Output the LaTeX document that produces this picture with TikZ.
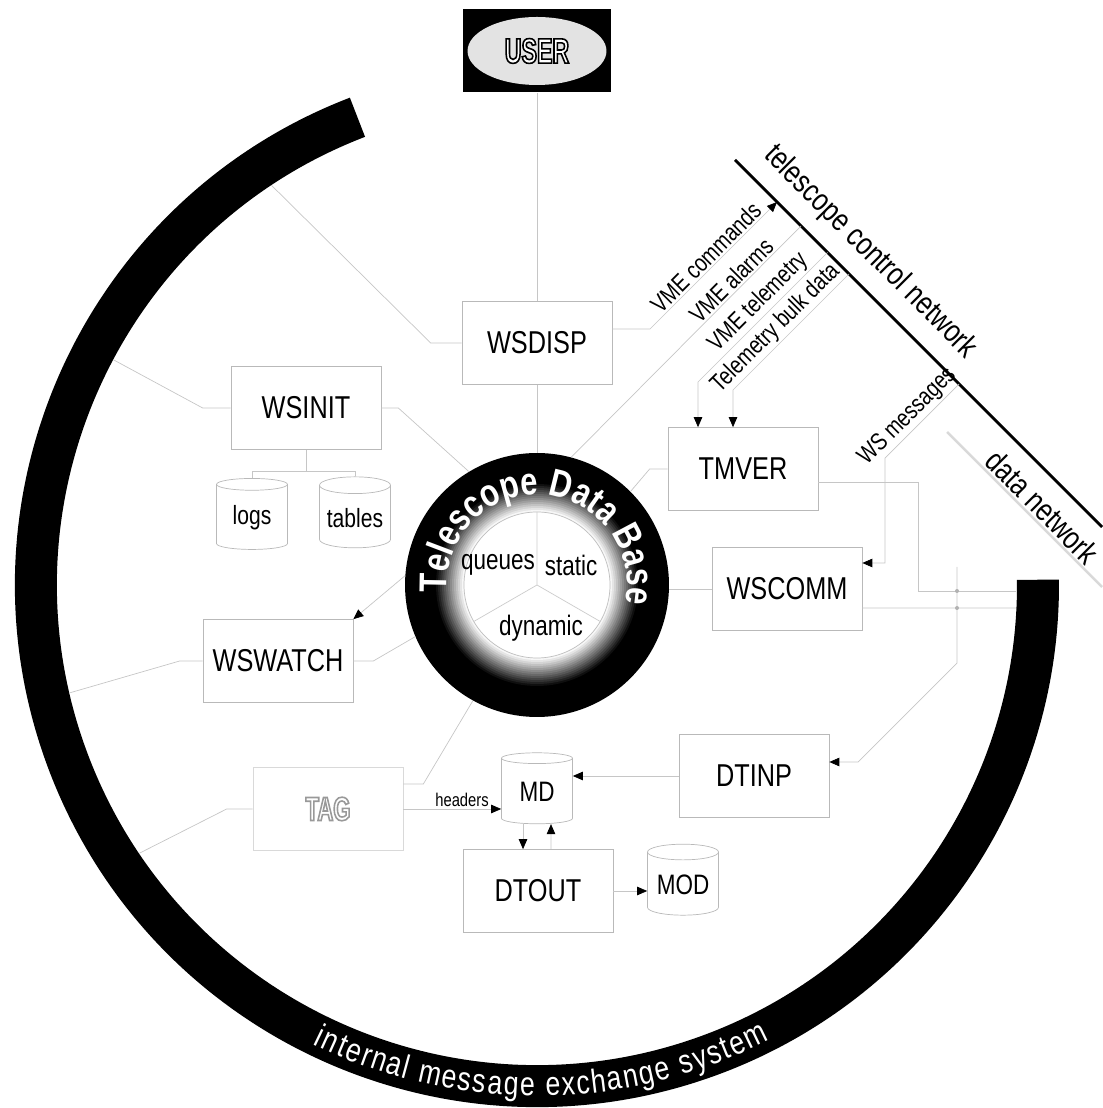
\documentclass[tikz,border=0pt]{standalone}
\usepackage{fontspec}
\setmainfont[FakeStretch=0.8]{Liberation Sans}
\newfontfamily\userfont[FakeStretch=0.66]{Liberation Sans}
\usetikzlibrary{arrows.meta,shapes.geometric,decorations.text}

\newcommand{\boxfont}{\fontsize{18}{21}\selectfont}
\newcommand{\storefont}{\fontsize{16}{19}\selectfont}
\newcommand{\vmefont}{\fontsize{14}{16}\selectfont}
\newcommand{\netfont}{\fontsize{18}{21}\selectfont}
% hollow lettering: white fill, coloured outline
\newcommand{\strokedtext}[2]{\special{pdf:literal direct #1 RG 0.9 w 2 Tr}#2\special{pdf:literal direct 0 Tr}}

\begin{document}
\begin{tikzpicture}[x=0.02cm, y=0.02cm,
  procbox/.style={draw=gray!55, line width=0.4pt, minimum width=3cm, minimum height=1.66cm, font=\boxfont},
  store/.style={cylinder, shape border rotate=90, aspect=0.28, draw=gray!55, line width=0.4pt,
    minimum width=1.42cm, minimum height=1.42cm, inner sep=1pt, font=\storefont},
  link/.style={draw=gray!45, line width=0.4pt},
  feed/.style={link, -{Triangle[length=0.2cm, width=0.17cm, color=black]}},
  backfeed/.style={link, {Triangle[length=0.2cm, width=0.17cm, color=black]}-},
  vmelabel/.style={sloped, above, inner sep=1pt, font=\vmefont}]
  \useasboundingbox (0,0) rectangle (1102,1108);

  % Internal message exchange ring
  \draw[line width=0.84cm] (537,523) ++(111:501) arc[start angle=111, end angle=360.6, radius=501];
  \path[decorate, decoration={text along path, text align=fit to path,
      text={|\color{white}\fontsize{19}{19}\selectfont|internal message exchange system}}]
    (537,523) ++(244:511) arc[start angle=244, end angle=297, radius=511];

  % Telescope data base
  \node[circle, fill=black, minimum size=5.28cm, inner sep=0pt] (db) at (537,523) {};
  \foreach \r in {101,99,...,75} {
    \pgfmathtruncatemacro{\k}{(\r-74)*3.5}
    \fill[black!\k] (db.center) circle (\r);
  }
  \draw[gray!50, fill=white] (db.center) circle (73);
  \draw[gray!40] (db.center) -- ++(90:73) (db.center) -- ++(210:73) (db.center) -- ++(330:73);
  \path[decorate, decoration={text along path, text align=fit to path,
      text={|\color{white}\bfseries\fontsize{22}{22}\selectfont|Telescope Data Base}}]
    (db.center) ++(185:90) arc[start angle=185, end angle=-9, radius=90];
  \node[font=\storefont] (queues) at (498,543) {queues};
  \node[font=\storefont] (static) at (571,543) {static};
  \node[font=\storefont] (dynamic) at (541,480) {dynamic};

  % User
  \node[fill=black, minimum width=2.98cm, minimum height=1.66cm] (userbox) at (537,1057) {};
  \node[ellipse, fill=gray!22, minimum width=2.78cm, minimum height=1.36cm] (userdisc) at (userbox) {};
  \node[font=\userfont\bfseries\fontsize{20}{20}\selectfont, text=white] (user) at (userbox) {\strokedtext{0 0 0}{USER}};

  % Processes
  \node[procbox] (wsdisp) at (537,765) {WSDISP};
  \node[procbox] (wsinit) at (306,700) {WSINIT};
  \node[procbox] (wswatch) at (278,447) {WSWATCH};
  \node[procbox] (tmver) at (743,639) {TMVER};
  \node[procbox] (wscomm) at (787,519) {WSCOMM};
  \node[procbox] (dtinp) at (754,332) {DTINP};
  \node[procbox] (dtout) at (538,217) {DTOUT};
  \node[procbox, draw=gray!30, font=\userfont\bfseries\fontsize{19}{19}\selectfont, text=white] (tag) at (328,299) {\strokedtext{0.6 0.6 0.6}{TAG}};

  % Stores
  \node[store, font=\fontsize{15}{18}\selectfont] (logs) at (252,590) {logs};
  \node[store, font=\fontsize{15}{18}\selectfont] (tables) at (355,590) {tables};
  \node[store] (md) at (537,316) {MD};
  \node[store] (mod) at (683,223) {MOD};

  % Ring taps
  \path (db.center) ++(123.6:480) coordinate (ringdisp)
        (db.center) ++(152:480) coordinate (ringinit)
        (db.center) ++(193:480) coordinate (ringwatch)
        (db.center) ++(214:480) coordinate (ringtag);
  \coordinate (ringtm) at (1016,517);
  \coordinate (ringcomm) at (1016,500);

  % Networks
  \coordinate (tcn1) at (735,948);
  \coordinate (tcn2) at (1102,581);
  \coordinate (vmecmd) at (777,906);
  \coordinate (vmealarm) at (801,882);
  \coordinate (vmetm) at (827.5,855.5);
  \coordinate (vmebulk) at (849,834);
  \coordinate (wsmsg) at (959,724);
  \coordinate (dn1) at (947,676);
  \coordinate (dn2) at (1102,521);
  \draw[line width=1.6pt] (tcn1) -- node[sloped, above=0.25cm, inner sep=1pt, pos=0.31, font=\netfont] {telescope control network} (tcn2);
  \draw[gray!30, line width=1.4pt] (dn1) -- node[sloped, above, inner sep=1pt, pos=0.55, text=black, font=\netfont] {data network} (dn2);

  % VME traffic
  \draw[feed] ([yshift=0.28cm]wsdisp.east) -- (650,779) -- node[vmelabel, pos=0.5] {VME commands} (vmecmd);
  \draw[link] (db.75.5) -- node[vmelabel, pos=0.73] {VME alarms} (vmealarm);
  \draw[backfeed] ([xshift=-0.9cm]tmver.north) -- (698,726) -- node[vmelabel, pos=0.54] {VME telemetry} (vmetm);
  \draw[backfeed] ([xshift=-0.2cm]tmver.north) -- (733,718) -- node[vmelabel, pos=0.45] {Telemetry bulk data} (vmebulk);
  \draw[backfeed] ([yshift=0.52cm]wscomm.east) -- (885,545) -- (885,650) -- node[vmelabel, pos=0.43] {WS messages} (wsmsg);

  % Links to the data base and the ring
  \draw[link] (userbox.south) -- (wsdisp.north);
  \draw[link] (wsdisp.south) -- (db.north);
  \draw[link] (wsdisp.west) -- ++(-31,0) -- (ringdisp);
  \draw[link] (wsinit.west) -- ++(-28,0) -- (ringinit);
  \draw[link] (wsinit.east) -- ++(17,0) -- (db.121);
  \draw[link] (wsinit.south) -- ++(0,-22) coordinate (split);
  \draw[link] (logs.north) |- (split) -| (tables.north);
  \draw[link] (wswatch.west) -- ++(-23,0) -- (ringwatch);
  \draw[link] (wswatch.east) -- ++(20,0) -- (db.203.4);
  \draw[feed] (db.176.5) -- (wswatch.north east);
  \draw[link] (tag.west) -- ++(-26,0) -- (ringtag);
  \draw[link] ([yshift=0.5cm]tag.east) -- ++(20,0) -- (db.241);
  \draw[link] (tmver.west) -- ++(-18,0) -- (db.45.6);
  \draw[link] (wscomm.west) -- (wscomm.west -| db.east);
  \draw[link] ([yshift=-0.26cm]tmver.east) -| (918,517) -- (ringtm);
  \draw[link] ([yshift=-0.38cm]wscomm.east) -- (ringcomm);
  \draw[backfeed] ([yshift=0.28cm]dtinp.east) -- (858,346) -- (957,445) -- (957,541);
  \fill[gray!60] (957,517) circle (2) (957,500) circle (2);

  % Data flow
  \draw[feed] (tag.east) -- node[above, inner sep=1pt, pos=0.6, font=\fontsize{10.5}{12}\selectfont] {headers} (tag.east -| md.west);
  \draw[feed] (dtinp.west) -- (dtinp.west -| md.east);
  \draw[feed] ([xshift=-0.28cm]md.south) -- ([xshift=-0.3cm]dtout.north);
  \draw[feed] ([xshift=0.26cm]dtout.north) -- ([xshift=0.28cm]md.south);
  \draw[feed] (dtout.east) -- (dtout.east -| mod.west);
\end{tikzpicture}
\end{document}
